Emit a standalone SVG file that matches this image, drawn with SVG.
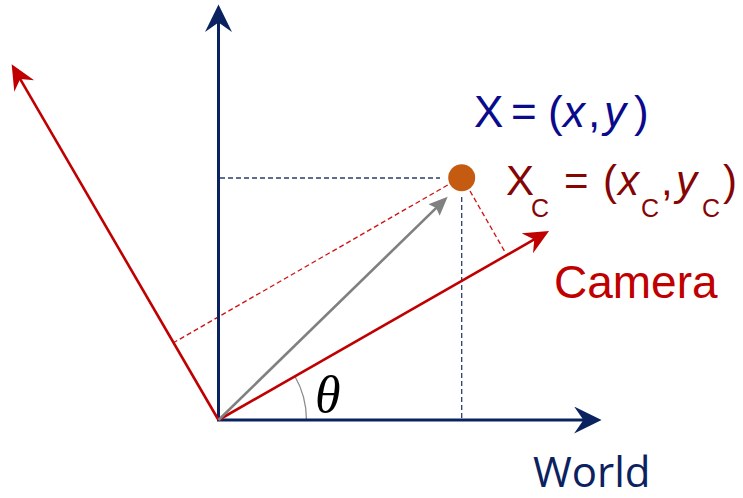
<svg xmlns="http://www.w3.org/2000/svg" width="743" height="498" viewBox="0 0 743 498">
  <style>
    .navy { stroke: #0B2260; stroke-width: 3; fill: none; }
    .red { stroke: #C00000; stroke-width: 2.6; fill: none; }
    .gray { stroke: #808080; stroke-width: 2.6; fill: none; }
    .dash-navy { stroke: #2A3E6E; stroke-width: 1.3; stroke-dasharray: 5 3; fill: none; }
    .dash-red { stroke: #D01010; stroke-width: 1.3; stroke-dasharray: 5 3; fill: none; }
    .sans { font-family: "Liberation Sans", Arial, sans-serif; }
    .eq1 { fill: #0A0A8C; font-size: 44px; }
    .eq2 { fill: #850505; font-size: 42px; }
    .sub { font-size: 25px; }
    .it { font-style: italic; }
  </style>
  <defs>
    <marker id="mNavy" markerUnits="userSpaceOnUse" markerWidth="28" markerHeight="28" viewBox="0 0 27 27" refX="10.5" refY="13" orient="auto">
      <path d="M0,0 L26.5,13 L0,26 L9,13 z" fill="#0B2260"/>
    </marker>
    <marker id="mRed" markerUnits="userSpaceOnUse" markerWidth="26" markerHeight="24" viewBox="0 0 26 24" refX="10" refY="11.5" orient="auto">
      <path d="M0,0 L25,11.5 L0,23 L8,11.5 z" fill="#C00000"/>
    </marker>
    <marker id="mGray" markerUnits="userSpaceOnUse" markerWidth="20" markerHeight="18" viewBox="0 0 20 18" refX="7" refY="8" orient="auto">
      <path d="M0,0 L19,8 L0,16 L3,8 z" fill="#808080"/>
    </marker>
  </defs>

  <g id="angle-arc">
    <path d="M306.5,420 A88,88 0 0 0 294.9,376.3" stroke="#8C8C8C" stroke-width="1.3" fill="none"/>
  </g>

  <g id="connectors">
    <line class="dash-navy" x1="220" y1="178" x2="440" y2="178"/>
    <line class="dash-navy" x1="461.7" y1="197" x2="461.7" y2="418"/>
    <line class="dash-red" x1="447.7" y1="185" x2="173" y2="343"/>
    <line class="dash-red" x1="470" y1="191" x2="505" y2="252"/>
    <line id="world-y" class="navy" x1="218.5" y1="421" x2="218.5" y2="21" marker-end="url(#mNavy)"/>
    <line id="world-x" class="navy" x1="217" y1="420" x2="585" y2="420" marker-end="url(#mNavy)"/>
    <line id="camera-y" class="red" x1="218.5" y1="420" x2="19.2" y2="77.3" marker-end="url(#mRed)"/>
    <line id="camera-x" class="red" x1="218.5" y1="420" x2="536" y2="238.4" marker-end="url(#mRed)"/>
    <line id="position" class="gray" x1="218.5" y1="420" x2="439.1" y2="205.1" marker-end="url(#mGray)"/>
  </g>

  <g id="point">
    <circle cx="461.7" cy="177.7" r="13.5" fill="#C55A11"/>
  </g>

  <g id="label-world-coords">
    <text class="sans eq1" y="127"><tspan x="474">X</tspan><tspan x="511">=</tspan><tspan x="548">(</tspan><tspan class="it" x="563">x</tspan><tspan x="588">,</tspan><tspan class="it" x="604">y</tspan><tspan x="634">)</tspan></text>
  </g>

  <g id="label-camera-coords">
    <text class="sans eq2" y="195"><tspan x="506">X</tspan><tspan class="sub" x="531" y="217">C</tspan><tspan x="564" y="195">=</tspan><tspan x="603">(</tspan><tspan class="it" x="618">x</tspan><tspan class="sub" x="641" y="217">C</tspan><tspan x="661" y="195">,</tspan><tspan class="it" x="676">y</tspan><tspan class="sub" x="702" y="217">C</tspan><tspan x="723" y="195">)</tspan></text>
  </g>

  <g id="label-camera">
    <text class="sans" x="554" y="298" font-size="46" fill="#C00000">Camera</text>
  </g>

  <g id="label-world">
    <text x="533" y="487" font-family="'Open Sans', 'Noto Sans', sans-serif" font-size="42" fill="#0B2260">World</text>
  </g>

  <g id="label-theta">
    <text x="315" y="412" font-family="'Liberation Serif', 'Times New Roman', serif" font-style="italic" font-size="52" fill="#000000">θ</text>
  </g>
</svg>
